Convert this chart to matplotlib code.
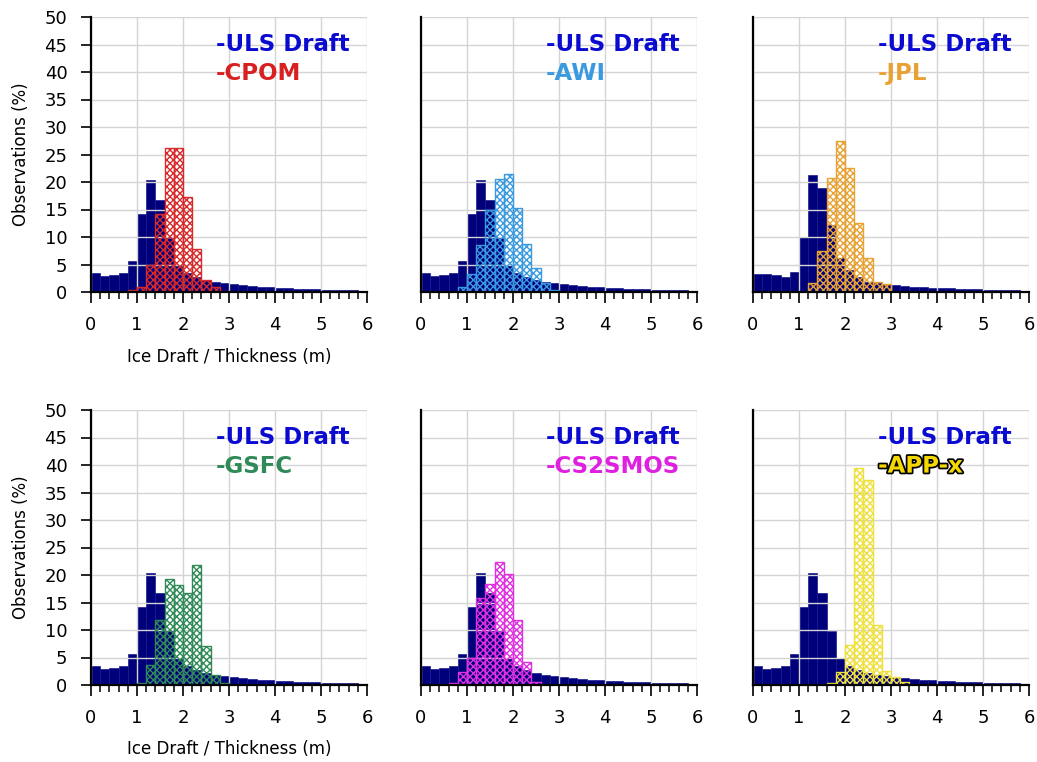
import numpy as np
import matplotlib.pyplot as plt
import matplotlib.patheffects as pe
from matplotlib.ticker import MultipleLocator

# Data: 0.2 m bins from 0 to 6 m, values in % of observations
bin_edges = np.round(np.arange(0, 6.01, 0.2), 1)

uls = [3.4, 3.0, 3.1, 3.5, 5.7, 14.1, 20.4, 16.7, 9.8, 5.0,
       3.4, 2.8, 2.2, 1.9, 1.6, 1.4, 1.2, 1.1, 1.0, 0.85,
       0.75, 0.7, 0.6, 0.55, 0.5, 0.45, 0.4, 0.35, 0.3, 0.2]
uls_jpl = [3.2, 3.2, 3.1, 2.8, 3.6, 10.0, 21.3, 19.0, 12.1, 6.1,
           4.0, 2.8, 1.9, 1.6, 1.4, 1.2, 1.1, 1.0, 0.9, 0.8,
           0.7, 0.65, 0.6, 0.55, 0.5, 0.45, 0.4, 0.35, 0.3, 0.2]

cpom = [0, 0, 0, 0, 0.3, 1.0, 5.0, 14.2, 26.2, 26.1,
        17.3, 7.8, 2.1, 1.0, 0.1, 0, 0, 0, 0, 0,
        0, 0, 0, 0, 0, 0, 0, 0, 0, 0]
awi = [0, 0, 0, 0, 1.0, 3.3, 8.5, 15.0, 20.5, 21.4,
       15.2, 8.8, 4.3, 1.6, 0.3, 0, 0, 0, 0, 0,
       0, 0, 0, 0, 0, 0, 0, 0, 0, 0]
jpl = [0, 0, 0, 0, 0, 0, 1.6, 7.5, 20.8, 27.5,
       22.5, 12.5, 6.1, 1.9, 1.5, 0, 0, 0, 0, 0,
       0, 0, 0, 0, 0, 0, 0, 0, 0, 0]
gsfc = [0, 0, 0, 0, 0, 0.3, 3.6, 11.9, 19.3, 18.1,
        16.8, 21.9, 7.1, 1.9, 0.3, 0, 0, 0, 0, 0,
        0, 0, 0, 0, 0, 0, 0, 0, 0, 0]
cs2smos = [0, 0, 0, 0.3, 2.4, 5.0, 15.9, 18.3, 22.4, 20.1,
           11.8, 4.1, 0.6, 0, 0, 0, 0, 0, 0, 0,
           0, 0, 0, 0, 0, 0, 0, 0, 0, 0]
app_x = [0, 0, 0, 0, 0, 0, 0, 0, 0.3, 2.3,
         7.2, 39.5, 37.2, 10.9, 2.5, 1.5, 0.5, 0, 0, 0,
         0, 0, 0, 0, 0, 0, 0, 0, 0, 0]

names = ['CPOM', 'AWI', 'JPL', 'GSFC', 'CS2SMOS', 'APP-x']
models = [cpom, awi, jpl, gsfc, cs2smos, app_x]
uls_sets = [uls, uls, uls_jpl, uls, uls, uls]
colors = ['#d82a2a', '#3a9ae0', '#e8a233', '#2f8a58', '#e030e0', '#efe03c']
text_colors = ['#d82020', '#3a9ae0', '#e8a233', '#2f8a58', '#e020e0', '#f5d800']

navy = '#00007a'
plt.rcParams['hatch.linewidth'] = 1.0

fig = plt.figure(figsize=(10.37, 7.62), dpi=100)
lefts = [91, 421, 753]
bottoms = [292, 685]
W, H = 276, 275

for i in range(6):
    r, c = divmod(i, 3)
    ax = fig.add_axes([lefts[c] / 1037, 1 - bottoms[r] / 762, W / 1037, H / 762])
    left = bin_edges[:-1]
    ax.bar(left, uls_sets[i], width=0.2, align='edge', color=navy,
           edgecolor='#1a1a90', linewidth=0.5, zorder=1)
    ax.bar(left, models[i], width=0.2, align='edge', facecolor='none',
           edgecolor=colors[i], hatch='xxxxx', linewidth=1.0, zorder=1.5)

    ax.set_xlim(0, 6)
    ax.set_ylim(0, 50)
    ax.xaxis.set_major_locator(MultipleLocator(1))
    ax.xaxis.set_minor_locator(MultipleLocator(0.2))
    ax.yaxis.set_major_locator(MultipleLocator(5))
    ax.grid(True, which='major', color='#d4d4d4', linewidth=1.0)
    # grid sits over the ULS bars but under the hatched model bars
    ax.xaxis.set_zorder(1.2)
    ax.yaxis.set_zorder(1.2)
    for s in ['top', 'right']:
        ax.spines[s].set_visible(False)
    for s in ['left', 'bottom']:
        ax.spines[s].set_linewidth(1.6)
        ax.spines[s].set_zorder(3)
    ax.tick_params(axis='x', which='major', length=8, width=1.2,
                   labelsize=13, pad=9)
    ax.tick_params(axis='x', which='minor', length=5, width=1.1)
    if c == 0:
        ax.tick_params(axis='y', length=7, width=1.2, labelsize=13, pad=10)
        ax.set_ylabel('Observations (%)', fontsize=12, labelpad=10)
        ax.set_xlabel('Ice Draft / Thickness (m)', fontsize=12, labelpad=10)
    else:
        ax.tick_params(axis='y', length=0, labelleft=False)

    ax.text(2.72, 45, '-ULS Draft', color='#0a0ad0', fontsize=16.5,
            fontweight='bold', va='center', ha='left', zorder=4)
    t = ax.text(2.72, 39.8, '-' + names[i], color=text_colors[i],
                fontsize=16.5, fontweight='bold', va='center', ha='left',
                zorder=4)
    if names[i] == 'APP-x':
        t.set_path_effects([pe.withStroke(linewidth=2.5, foreground='black')])

fig.savefig('out.png', dpi=100)
